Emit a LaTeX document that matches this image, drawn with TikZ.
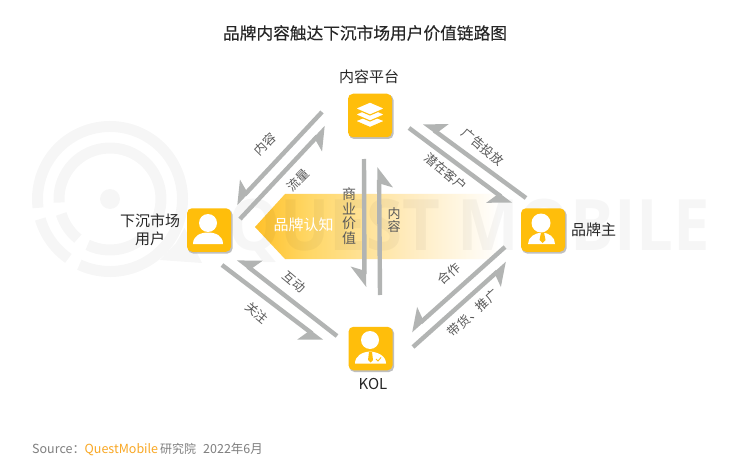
\documentclass[tikz,border=0pt]{standalone}
\usepackage{fontspec}
\usetikzlibrary{arrows.meta,calc}
\setmainfont{Noto Sans CJK SC}
\newfontfamily\wmfont{Open Sans}
\definecolor{iconor}{HTML}{FFBE0B}
\definecolor{arrgray}{HTML}{B2B4B3}
\definecolor{lblgray}{HTML}{595959}
\definecolor{txtdark}{HTML}{262626}
\definecolor{srcgray}{HTML}{7F7F7F}
\definecolor{srcor}{HTML}{F9A825}
\definecolor{banA}{HTML}{FFC12A}
\definecolor{banB}{HTML}{FFD766}
\definecolor{banC}{HTML}{FFEBBD}
\pgfdeclarehorizontalshading{bannerfade}{100bp}{color(0bp)=(banA);color(25bp)=(banA);color(36bp)=(banB);color(56bp)=(banC);color(75bp)=(white);color(100bp)=(white)}
\tikzset{
  x=1pt,y=-1pt,
  flow/.style={draw=arrgray,line width=4.4pt,-{Stealth[harpoon,swap,length=18pt,width=27pt,inset=4pt]}},
  lbl/.style={font=\fontsize{12.5}{14}\selectfont,text=lblgray,inner sep=0pt},
  vlbl/.style={font=\fontsize{14}{14.5}\selectfont,text=lblgray,inner sep=0pt,align=center},
  name lbl/.style={font=\fontsize{15}{18}\selectfont,text=txtdark,inner sep=0pt,align=center},
  iconbox/.style={fill=iconor,rounded corners=5pt,minimum width=44pt,minimum height=43.5pt,inner sep=0pt},
  iconshadow/.style={fill=black!45,opacity=.55,rounded corners=5pt},
  wm/.style={fill=black,fill opacity=.035,draw=none},
  wmring/.style={draw=black,draw opacity=.035,line width=11pt},
  lay/.style={fill=white,draw=iconor,line width=1.1pt},
}
\newcommand{\iconat}[2]{%
  \fill[iconshadow] (#1-21,#2-20.5) rectangle (#1+23.5,#2+23.5);
}
\begin{document}
\begin{tikzpicture}
\useasboundingbox (0,0) rectangle (741,465);
\fill[white] (0,0) rectangle (741,465);
% banner
\shade[shading=bannerfade] (255,227) -- (285,194) -- (500,194) -- (500,259) -- (285,259) -- cycle;
% watermark logo
\fill[wm] (110,199) circle (10);
\draw[wmring] (110,199) ++(115:72.5) arc[start angle=115,end angle=-187,radius=72.5];
\draw[wmring] (110,199) ++(125:72.5) arc[start angle=125,end angle=164,radius=72.5];
\draw[wmring] (110,199) ++(116:51) arc[start angle=116,end angle=-184,radius=51];
\draw[wmring] (110,199) ++(129:51) arc[start angle=129,end angle=163,radius=51];
\fill[wm] (160,260) -- (202,263) -- (184.5,228) -- (176,243) -- cycle;
\node[anchor=base east,inner sep=0pt,text=black,text opacity=.035,font=\fontsize{71}{71}\bfseries\wmfont,xscale=.92] (wmtext) at (710,250) {QUEST MOBILE};
% coordinates of the connectors
\coordinate (a1s) at (322,112); \coordinate (a1e) at (236,204);
\coordinate (a2s) at (240,219); \coordinate (a2e) at (326,127);
\coordinate (a3s) at (526,198); \coordinate (a3e) at (424,123);
\coordinate (a4s) at (409,128); \coordinate (a4e) at (511,204);
\coordinate (a5s) at (364,159); \coordinate (a5e) at (364.5,287);
\coordinate (a6s) at (380,295); \coordinate (a6e) at (379,167);
\coordinate (a7s) at (337,336); \coordinate (a7e) at (238,259);
\coordinate (a8s) at (222,265); \coordinate (a8e) at (322,341);
\coordinate (a9s) at (505,247); \coordinate (a9e) at (411,331);
\coordinate (a10s) at (413,347); \coordinate (a10e) at (507,263);
\draw[flow] (a1s) -- (a1e);
\draw[flow] (a2s) -- (a2e);
\draw[flow] (a3s) -- (a3e);
\draw[flow] (a4s) -- (a4e);
\draw[flow] (a5s) -- (a5e);
\draw[flow] (a6s) -- (a6e);
\draw[flow] (a7s) -- (a7e);
\draw[flow] (a8s) -- (a8e);
\draw[flow] (a9s) -- (a9e);
\draw[flow] (a10s) -- (a10e);
% platform icon
\iconat{370}{115.5}
\node[iconbox,draw=none] (platform) at (370,115.5) {};
\draw[lay] (370,115) -- (385,121) -- (370,127.5) -- (355,121) -- cycle;
\draw[lay] (370,108) -- (385,114.5) -- (370,121) -- (355,114.5) -- cycle;
\draw[lay] (370,102) -- (385,108.5) -- (370,115) -- (355,108.5) -- cycle;
% user icon
\iconat{209}{230}
\node[iconbox] (user) at (209,230) {};
\fill[white] (208,223) circle (9);
\fill[white] (193,244) .. controls (193,236) and (200,232.5) .. (208,232.5) .. controls (216,232.5) and (223,236) .. (223,244) -- cycle;
% brand icon
\iconat{543}{230}
\node[iconbox] (brand) at (543,230) {};
\fill[white] (541,223) circle (9.5);
\fill[white] (528,244) .. controls (528,237) and (535,233) .. (542,232.5) .. controls (549,233) and (555,237) .. (555,244) -- cycle;
\fill[iconor] (541,232.5) -- (544,232.5) -- (545.5,240) -- (542.5,243) -- (539.5,240) -- cycle;
% KOL icon
\iconat{370.5}{348.5}
\node[iconbox] (kol) at (370.5,348.5) {};
\fill[white] (370,340) circle (9);
\fill[white] (355,363.5) .. controls (355,356) and (362,352) .. (370,351.5) .. controls (378,352) and (386,356) .. (386,363.5) -- cycle;
\fill[iconor] (369,352) -- (372,352) -- (373,360) -- (370.5,362.5) -- (368,360) -- cycle;
\draw[iconor,line width=.9pt] (376,359) -- (378,361) -- (381,357.5);
% texts
\node[font=\fontsize{16.7}{20}\selectfont,text=txtdark,inner sep=0pt] (title) at (365,33) {\addfontfeature{FakeBold=0.25}品牌内容触达下沉市场用户价值链路图};
\node[name lbl] (tplatform) at (369,77) {内容平台};
\node[name lbl,font=\fontsize{15}{18}\selectfont] (tuser) at (150,230) {下沉市场\\用户};
\node[name lbl,anchor=west] (tbrand) at (571,230) {品牌主};
\node[name lbl] (tkol) at (373,384) {KOL};
\node[font=\fontsize{15}{18}\selectfont,text=white,inner sep=0pt] (tbanner) at (303.5,225) {品牌认知};
\node[lbl,rotate=45] (l1) at (265,144) {内容};
\node[lbl,rotate=45] (l2) at (298,180) {流量};
\node[lbl,rotate=-40] (l3) at (483,147) {广告投放};
\node[lbl,rotate=-40] (l4) at (446,172) {潜在客户};
\node[lbl,rotate=-40] (l5) at (294,282) {互动};
\node[lbl,rotate=-40] (l6) at (257,313) {关注};
\node[lbl,rotate=42] (l7) at (449,274) {合作};
\node[lbl,rotate=42] (l8) at (473,313) {带货、推广};
\node[vlbl] (l9) at (349,216) {商\\业\\价\\值};
\node[vlbl,font=\fontsize{13}{13.5}\selectfont] (l10) at (394,220) {内\\容};
\node[anchor=base west,inner sep=0pt,font=\fontsize{12.5}{15}\selectfont,text=srcgray] (src) at (32,453) {Source：};
\node[anchor=base west,inner sep=0pt,font=\fontsize{12.5}{15}\selectfont,text=srcor] (srcq) at (84.5,453) {QuestMobile};
\node[anchor=base west,inner sep=0pt,font=\fontsize{12}{15}\selectfont,text=srcgray] (srcr) at (160,453) {研究院};
\node[anchor=base west,inner sep=0pt,font=\fontsize{12.5}{15}\selectfont,text=srcgray] (srcd) at (203,453) {2022年6月};
\end{tikzpicture}
\end{document}
